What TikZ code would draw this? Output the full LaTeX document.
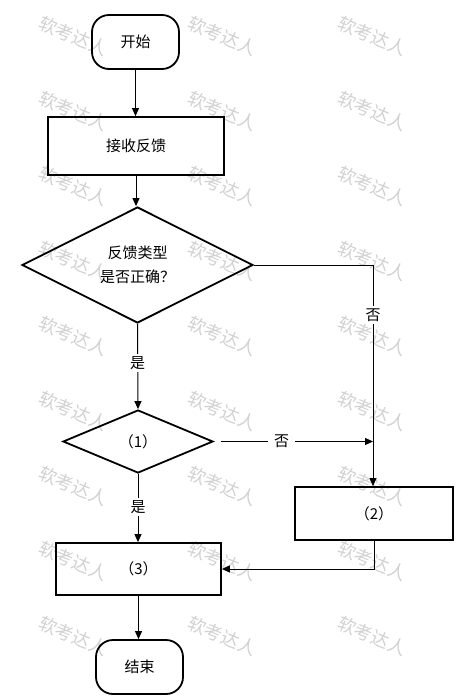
\documentclass[tikz,border=0pt]{standalone}
\usepackage{fontspec}
\setmainfont{Noto Sans CJK SC}
\usetikzlibrary{shapes.geometric,arrows.meta}
\begin{document}
\begin{tikzpicture}[x=1pt,y=-1pt,
  every node/.style={font=\fontsize{15}{24}\selectfont},
  terminal/.style={draw,line width=1.8pt,rounded corners=17pt,minimum width=87pt,minimum height=54pt,inner sep=0pt},
  procbox/.style={draw,line width=1.8pt,inner sep=0pt},
  decision/.style={draw,diamond,line width=1.8pt,inner sep=0pt,align=center},
  conn/.style={line width=1pt,-{Triangle[length=8pt,width=7pt]}},
  lbl/.style={fill=white,inner sep=2.5pt},
  wm/.style={text=black!18,rotate=-22,font=\fontsize{18}{18}\selectfont}
  ]
\useasboundingbox (0,0) rectangle (464,698);
% watermark
\foreach \cx in {73,222,372}{
  \foreach \cy in {36,111,186,261,336,411,486,561,636}{
    \node[wm] (wm-\cx-\cy) at (\cx,\cy) {软考达人};
  }
}
% nodes
\node[terminal] (start) at (135.5,42) {开始};
\node[procbox,minimum width=176pt,minimum height=58pt] (recv) at (136,146) {接收反馈};
\node[decision,minimum width=231pt,minimum height=116pt] (d1) at (137.5,265) {反馈类型\\是否正确？};
\node[decision,minimum width=150pt,minimum height=63pt] (d2) at (138,441.5) {（1）};
\node[procbox,minimum width=158pt,minimum height=53pt] (b2) at (374,513.5) {（2）};
\node[procbox,minimum width=165pt,minimum height=52pt] (b3) at (138.5,569) {（3）};
\node[terminal] (stop) at (139.5,667) {结束};
\coordinate (c1) at (373,265);
% connectors
\draw[conn] (start.south) -- (start.south |- recv.north);
\draw[conn] (recv.south) -- (recv.south |- d1.north);
\draw[conn] (d1.south) -- node[lbl,pos=0.46] (y1) {是} (d2.north);
\draw[conn] (d2.south) -- node[lbl,pos=0.49] (y2) {是} (d2.south |- b3.north);
\draw[conn] (d1.east) -- (c1) -- node[lbl,pos=0.225] (n1) {否} (c1 |- b2.north);
\draw[conn,shorten <=7pt] (d2.east) -- node[lbl,pos=0.425,inner xsep=6pt] (n2) {否} (d2.east -| c1);
\draw[conn] (b2.south) |- (b3.east);
\draw[conn] (b3.south) -- (b3.south |- stop.north);
\end{tikzpicture}
\end{document}
